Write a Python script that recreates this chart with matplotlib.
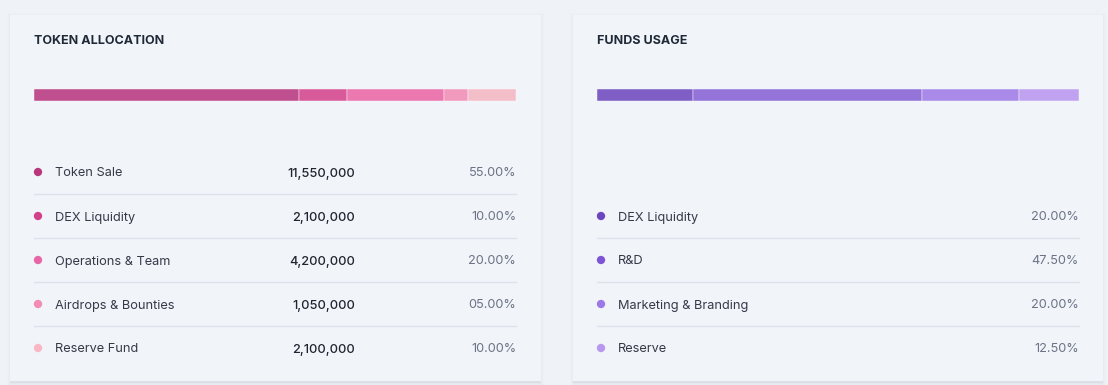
import matplotlib.pyplot as plt
import numpy as np
from matplotlib.patches import Rectangle

plt.rcParams['font.family'] = ['Inter', 'DejaVu Sans']

# token allocation
token_names = ['Token Sale', 'DEX Liquidity', 'Operations & Team',
               'Airdrops & Bounties', 'Reserve Fund']
token_amounts = [11550000, 2100000, 4200000, 1050000, 2100000]
token_pct = [55.0, 10.0, 20.0, 5.0, 10.0]
token_bar_colors = ['#bf4f8f', '#d95a9a', '#eb79b0', '#f29abd', '#f4bec8']
token_dot_colors = ['#b8377b', '#d4418b', '#e866a6', '#f38bb3', '#f8b7c3']

# funds usage
funds_names = ['DEX Liquidity', 'R&D', 'Marketing & Branding', 'Reserve']
funds_pct = [20.0, 47.5, 20.0, 12.5]
funds_bar_colors = ['#7f5fc6', '#9474d9', '#aa8ae9', '#c0a2f1']
funds_dot_colors = ['#6c46c0', '#7d54d3', '#9c79e7', '#b897f0']

W, H = 1108, 385
bg = '#eff2f7'
fig = plt.figure(figsize=(W / 100, H / 100), dpi=100, facecolor=bg)
ax = fig.add_axes([0, 0, 1, 1])
ax.set_xlim(0, W)
ax.set_ylim(H, 0)
ax.axis('off')


def card(x0, x1, y0, y1):
    # soft shadow, a bit heavier at the bottom
    for i, a in enumerate([0.03, 0.025, 0.02, 0.015]):
        ax.add_patch(Rectangle((x0 - i, y0 - i + 1), x1 - x0 + 2 * i,
                               y1 - y0 + 2 * i + 2, facecolor='#8a94a6',
                               alpha=a, edgecolor='none', zorder=1))
    ax.add_patch(Rectangle((x0, y1 - 1), x1 - x0, 3, facecolor='#8a94a6',
                           alpha=0.08, edgecolor='none', zorder=1))
    ax.add_patch(Rectangle((x0, y0), x1 - x0, y1 - y0, facecolor='#f1f4f9',
                           edgecolor='none', zorder=2))


card(10, 541, 15, 381)
card(573, 1103, 15, 381)

ax.text(34, 40, 'TOKEN ALLOCATION', fontsize=9, fontweight='bold',
        color='#1f2937', va='center_baseline', ha='left', zorder=5)
ax.text(597, 40, 'FUNDS USAGE', fontsize=9, fontweight='bold',
        color='#1f2937', va='center_baseline', ha='left', zorder=5)


def stacked_bar(x0, width, pct, colors):
    bax = fig.add_axes([x0 / W, 1 - 101 / H, width / W, 12 / H])
    left = np.concatenate([[0], np.cumsum(pct)[:-1]])
    bax.barh([0], pct, left=left, height=1, color=colors,
             edgecolor='white', linewidth=0.3)
    bax.set_xlim(0, sum(pct))
    bax.set_ylim(-0.5, 0.5)
    bax.axis('off')


stacked_bar(34, 482, token_pct, token_bar_colors)
stacked_bar(597, 482, funds_pct, funds_bar_colors)


def rows(x0, x1, y_first, names, pcts, dots, amounts=None):
    step = 44
    for i, name in enumerate(names):
        y = y_first + i * step
        ax.scatter([x0 + 4], [y], s=36, color=dots[i], zorder=5,
                   edgecolors='none')
        ax.text(x0 + 21, y, name, fontsize=9.2, color='#343a48',
                va='center_baseline', ha='left', zorder=5)
        if amounts is not None:
            ax.text(x0 + 321, y, f'{amounts[i]:,}', fontsize=9.2,
                    color='#1f2430', va='center_baseline', ha='right',
                    zorder=5, fontweight='medium')
        ax.text(x1, y, f'{pcts[i]:05.2f}%', fontsize=9.2, color='#6b7385',
                va='center_baseline', ha='right', zorder=5)
        if i < len(names) - 1:
            ax.plot([x0, x1], [y + 22, y + 22], color='#dde2ea', lw=1,
                    zorder=4)


rows(34, 516, 172, token_names, token_pct, token_dot_colors, token_amounts)
rows(597, 1079, 216, funds_names, funds_pct, funds_dot_colors)

fig.savefig('out.png', dpi=100, facecolor=bg)
